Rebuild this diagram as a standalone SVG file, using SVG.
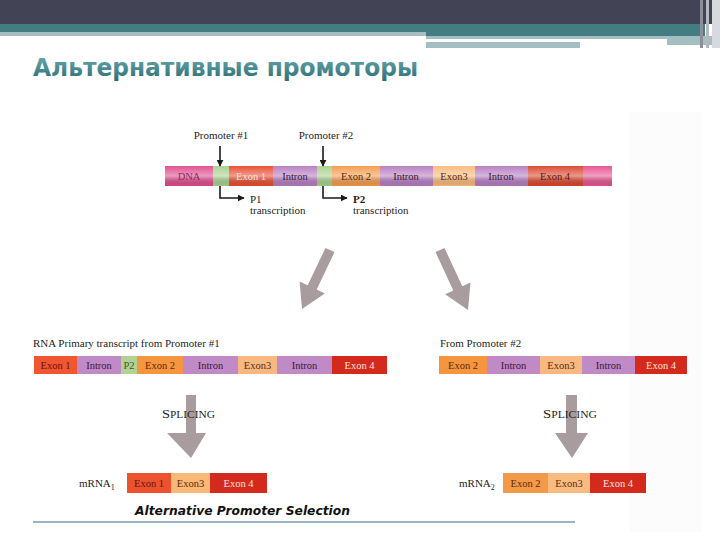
<svg xmlns="http://www.w3.org/2000/svg" width="720" height="540" viewBox="0 0 720 540">
<defs>
<linearGradient id="titleGrad" x1="0" y1="0" x2="0" y2="1">
<stop offset="0" stop-color="#6fb0b6"/>
<stop offset="1" stop-color="#2a6a72"/>
</linearGradient>
<linearGradient id="tube" x1="0" y1="0" x2="0" y2="1">
<stop offset="0" stop-color="#ffffff" stop-opacity="0.05"/>
<stop offset="0.5" stop-color="#ffffff" stop-opacity="0.45"/>
<stop offset="1" stop-color="#000000" stop-opacity="0.04"/>
</linearGradient>
<marker id="ah" viewBox="0 0 10 10" refX="9" refY="5" markerWidth="7" markerHeight="7" markerUnits="userSpaceOnUse" orient="auto">
<path d="M0,0 L10,5 L0,10 z" fill="#1a1a1a"/>
</marker>
<style>
.lbl{font-family:"Liberation Serif","Times New Roman",serif;font-size:11px;fill:#1e1e1e}
.seg{font-family:"Liberation Serif","Times New Roman",serif;font-size:10.5px;text-anchor:middle}
.dk{fill:#3a1838}
.rd{fill:#6a1208}
.br{fill:#5e2a08}
.lt{fill:#ffe4dc}
.gray{fill:#a89c9e}
.sp{font-family:"Liberation Serif","Times New Roman",serif;fill:#1e1e1e}
.pl{stroke:#1a1a1a;stroke-width:1.6;fill:none}
</style>
</defs>
<rect x="0" y="0" width="720" height="540" fill="#ffffff"/>
<rect x="630" y="112" width="72" height="420" fill="#fdfcfd"/>
<!-- header -->
<g id="header">
<rect x="0" y="0" width="720" height="24" fill="#424455"/>
<rect x="0" y="24" width="705" height="8" fill="#437d82"/>
<rect x="426" y="32" width="279" height="4" fill="#437d82"/>
<rect x="0" y="32" width="426" height="4" fill="#a4bec2"/>
<rect x="426" y="36" width="287" height="3" fill="#a4bec2"/>
<rect x="667" y="36" width="46" height="9" fill="#a4bec2"/>
<rect x="426" y="42" width="154" height="6" fill="#a4bec2"/>
<rect x="700" y="0" width="3" height="48" fill="#8a8f99"/>
<rect x="706" y="0" width="3" height="48" fill="#b4b8bf"/>
<rect x="712" y="0" width="8" height="48" fill="#d6dadf"/>
<text x="33" y="76" font-family="'DejaVu Sans','Verdana',sans-serif" font-weight="bold" font-size="25" fill="url(#titleGrad)" textLength="385" lengthAdjust="spacingAndGlyphs">Альтернативные промоторы</text>
</g>
<!-- DNA bar -->
<g id="dna">
<rect x="165" y="166" width="48" height="20" fill="#de4a8c"/>
<rect x="213" y="166" width="16" height="20" fill="#a7d08c"/>
<rect x="229" y="166" width="44" height="20" fill="#e84a2e"/>
<rect x="273" y="166" width="44" height="20" fill="#b57ac0"/>
<rect x="317" y="166" width="15" height="20" fill="#a7d08c"/>
<rect x="332" y="166" width="48" height="20" fill="#f39a4a"/>
<rect x="380" y="166" width="53" height="20" fill="#b57ac0"/>
<rect x="433" y="166" width="42" height="20" fill="#f8b878"/>
<rect x="475" y="166" width="53" height="20" fill="#b57ac0"/>
<rect x="528" y="166" width="55" height="20" fill="#d9452a"/>
<rect x="583" y="166" width="29" height="20" fill="#e6508e"/>
<rect x="165" y="166" width="447" height="20" fill="url(#tube)"/>
<text class="seg" x="189" y="180" fill="#8a2c62">DNA</text>
<text class="seg lt" x="251" y="180">Exon 1</text>
<text class="seg dk" x="295" y="180">Intron</text>
<text class="seg br" x="356" y="180">Exon 2</text>
<text class="seg dk" x="406" y="180">Intron</text>
<text class="seg br" x="454" y="180">Exon3</text>
<text class="seg dk" x="501" y="180">Intron</text>
<text class="seg rd" x="555" y="180">Exon 4</text>
</g>
<g id="promoter1">
<text class="lbl" x="221" y="139" text-anchor="middle">Promoter #1</text>
</g>
<g id="promoter2">
<text class="lbl" x="326" y="139" text-anchor="middle">Promoter #2</text>
</g>
<g id="p1-label">
<text class="lbl" x="250" y="203">P1</text>
<text class="lbl" x="250" y="214">transcription</text>
</g>
<g id="p2-label">
<text class="lbl" x="353" y="203" font-weight="bold">P2</text>
<text class="lbl" x="353" y="214">transcription</text>
</g>
<!-- primary transcript -->
<g id="primary1">
<text class="lbl" x="33" y="347">RNA Primary transcript from Promoter #1</text>
<rect x="34" y="356" width="43" height="18" fill="#f0562f"/>
<rect x="77" y="356" width="44" height="18" fill="#c08ac6"/>
<rect x="121" y="356" width="16" height="18" fill="#b2d194"/>
<rect x="137" y="356" width="46" height="18" fill="#f5953e"/>
<rect x="183" y="356" width="55" height="18" fill="#c08ac6"/>
<rect x="238" y="356" width="39" height="18" fill="#f8b882"/>
<rect x="277" y="356" width="55" height="18" fill="#c08ac6"/>
<rect x="332" y="356" width="55" height="18" fill="#d42a1e"/>
<text class="seg rd" x="55.5" y="369">Exon 1</text>
<text class="seg dk" x="99" y="369">Intron</text>
<text class="seg" x="129" y="369" fill="#3c5a22">P2</text>
<text class="seg br" x="160" y="369">Exon 2</text>
<text class="seg dk" x="210.5" y="369">Intron</text>
<text class="seg br" x="257.5" y="369">Exon3</text>
<text class="seg dk" x="304.5" y="369">Intron</text>
<text class="seg lt" x="359.5" y="369">Exon 4</text>
</g>
<g id="primary2">
<text class="lbl" x="440" y="347">From Promoter #2</text>
<rect x="439" y="356" width="48" height="18" fill="#f5953e"/>
<rect x="487" y="356" width="53" height="18" fill="#c08ac6"/>
<rect x="540" y="356" width="42" height="18" fill="#f8b882"/>
<rect x="582" y="356" width="53" height="18" fill="#c08ac6"/>
<rect x="635" y="356" width="52" height="18" fill="#d42a1e"/>
<text class="seg br" x="463" y="369">Exon 2</text>
<text class="seg dk" x="513.5" y="369">Intron</text>
<text class="seg br" x="561" y="369">Exon3</text>
<text class="seg dk" x="608.5" y="369">Intron</text>
<text class="seg lt" x="661" y="369">Exon 4</text>
</g>
<!-- mRNAs -->
<g id="mrna1">
<text class="lbl" x="79" y="487">mRNA<tspan font-size="8" dy="3">1</tspan></text>
<rect x="127" y="473" width="44" height="20" fill="#ec5230"/>
<rect x="171" y="473" width="39" height="20" fill="#f8b878"/>
<rect x="210" y="473" width="57" height="20" fill="#d42a1e"/>
<text class="seg rd" x="149" y="487">Exon 1</text>
<text class="seg br" x="190.5" y="487">Exon3</text>
<text class="seg lt" x="238.5" y="487">Exon 4</text>
</g>
<g id="mrna2">
<text class="lbl" x="459" y="487">mRNA<tspan font-size="8" dy="3">2</tspan></text>
<rect x="503" y="473" width="45" height="20" fill="#f29a48"/>
<rect x="548" y="473" width="42" height="20" fill="#f8bc82"/>
<rect x="590" y="473" width="56" height="20" fill="#d42a1e"/>
<text class="seg br" x="525.5" y="487">Exon 2</text>
<text class="seg br" x="569" y="487">Exon3</text>
<text class="seg lt" x="618" y="487">Exon 4</text>
</g>
<!-- connectors -->
<g id="connectors">
<line class="pl" x1="220" y1="146" x2="220" y2="166" marker-end="url(#ah)"/>
<line class="pl" x1="323" y1="146" x2="323" y2="166" marker-end="url(#ah)"/>
<path class="pl" d="M220,186 V198 H244" marker-end="url(#ah)"/>
<path class="pl" d="M323,186 V198 H347" marker-end="url(#ah)"/>
<polygon class="gray" points="334.5,252.1 316.7,289.5 324.8,293.4 302,309 299.6,281.4 307.7,285.3 325.5,247.9"/>
<polygon class="gray" points="444.5,247.9 462.3,286.2 470.5,282.4 468,310 445.1,294.2 453.3,290.4 435.5,252.1"/>
<polygon class="gray" points="186,395 196,395 196,433 206,433 191,458 167,433 186,433"/>
<polygon class="gray" points="566,395 577,395 577,433 588,433 572,458 555,433 566,433"/>
</g>
<g id="splicing1">
<text class="sp" x="162" y="418" font-size="12" textLength="53" lengthAdjust="spacingAndGlyphs">S<tspan font-size="9.5">PLICING</tspan></text>
</g>
<g id="splicing2">
<text class="sp" x="543" y="418" font-size="12" textLength="54" lengthAdjust="spacingAndGlyphs">S<tspan font-size="9.5">PLICING</tspan></text>
</g>
<g id="caption">
<text x="135" y="515" font-family="'DejaVu Sans','Liberation Sans',sans-serif" font-weight="bold" font-style="italic" font-size="13" fill="#111" textLength="215" lengthAdjust="spacingAndGlyphs">Alternative Promoter Selection</text>
<line x1="33" y1="522" x2="575" y2="522" stroke="#7e98ad" stroke-width="1.3"/>
</g>
</svg>
